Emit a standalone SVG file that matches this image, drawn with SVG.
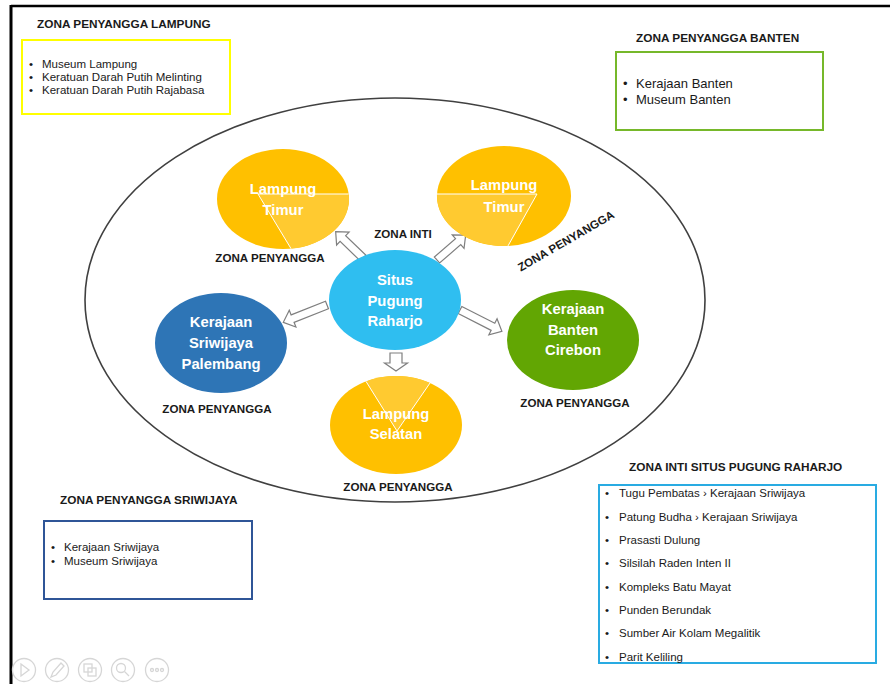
<svg xmlns="http://www.w3.org/2000/svg" width="890" height="684" viewBox="0 0 890 684">
  <style>
    .title { font-family: "Liberation Sans", Arial, sans-serif; font-weight: bold; font-size: 11.8px; fill: #1a1a1a; }
    .zone { font-family: "Liberation Sans", Arial, sans-serif; font-weight: bold; font-size: 11.6px; fill: #1a1a1a; text-anchor: middle; }
    .item { font-family: "Liberation Sans", Arial, sans-serif; font-size: 11.5px; fill: #1a1a1a; }
    .node { font-family: "Liberation Sans", Arial, sans-serif; font-weight: bold; font-size: 14.8px; fill: #ffffff; text-anchor: middle; }
    .arrow { fill: #ffffff; stroke: #7f7f7f; stroke-width: 1.2; stroke-linejoin: miter; }
    .seam { fill: none; stroke: #ffffff; stroke-width: 1; }
    .tool { fill: none; stroke: #d6d6d6; stroke-width: 1.3; }
  </style>
  <defs>
    <!-- block arrow pointing along +x, tip at x = 38 -->
    <path id="blk38" d="M0,-4 L28,-4 L28,-9 L38,0 L28,9 L28,4 L0,4 Z"/>
    <path id="blk47" d="M0,-4 L37,-4 L37,-9 L47,0 L37,9 L37,4 L0,4 Z"/>
  </defs>

  <rect x="0" y="0" width="890" height="684" fill="#ffffff"/>

  <!-- slide frame -->
  <line x1="11" y1="6" x2="890" y2="6" stroke="#000" stroke-width="2.5"/>
  <line x1="11" y1="5" x2="11" y2="684" stroke="#000" stroke-width="3"/>

  <!-- outer boundary -->
  <ellipse cx="395" cy="300" rx="310" ry="202" fill="none" stroke="#404040" stroke-width="1.6"/>

  <!-- connectors -->
  <g id="connectors">
    <use href="#blk38" class="arrow" transform="translate(363,258) rotate(-136)"/>
    <use href="#blk38" class="arrow" transform="translate(437,260) rotate(-41)"/>
    <use href="#blk47" class="arrow" transform="translate(327,305) rotate(158.4)"/>
    <use href="#blk47" class="arrow" transform="translate(460,310) rotate(27)"/>
    <path class="arrow" d="M390,353 L402,353 L402,363 L407.5,363 L396,371 L384.5,363 L390,363 Z"/>
  </g>

  <!-- nodes -->
  <g id="lampung-timur-west">
    <ellipse cx="283" cy="199" rx="66" ry="50" fill="#FFC000"/>
    <path d="M258,194 L348.7,194 A66,50 0 0,1 291,248.6 Z" fill="#FFCA30"/>
    <polyline class="seam" points="348.7,194 258,194 291,248.6"/>
    <text class="node" x="283" y="194">Lampung</text>
    <text class="node" x="283" y="215">Timur</text>
  </g>

  <g id="lampung-timur-east">
    <ellipse cx="504" cy="196" rx="67" ry="50" fill="#FFC000"/>
    <path d="M437,194 L537,194 L508,245.9 A67,50 0 0,1 437,194 Z" fill="#FFCA30"/>
    <polyline class="seam" points="437,194 537,194 508,245.9"/>
    <text class="node" x="504" y="190">Lampung</text>
    <text class="node" x="504" y="212">Timur</text>
  </g>

  <g id="situs-pugung-raharjo">
    <ellipse cx="395" cy="300" rx="66" ry="50" fill="#2FBEF0"/>
    <text class="node" x="395" y="285">Situs</text>
    <text class="node" x="395" y="306">Pugung</text>
    <text class="node" x="395" y="326">Raharjo</text>
  </g>

  <g id="sriwijaya-palembang">
    <ellipse cx="221" cy="343" rx="66" ry="50" fill="#2E75B6"/>
    <text class="node" x="221" y="327">Kerajaan</text>
    <text class="node" x="221" y="348">Sriwijaya</text>
    <text class="node" x="221" y="369">Palembang</text>
  </g>

  <g id="banten-cirebon">
    <ellipse cx="573" cy="340" rx="66" ry="50" fill="#62A603"/>
    <text class="node" x="573" y="314">Kerajaan</text>
    <text class="node" x="573" y="335">Banten</text>
    <text class="node" x="573" y="355">Cirebon</text>
  </g>

  <g id="lampung-selatan">
    <ellipse cx="396" cy="425" rx="66" ry="49" fill="#FFC000"/>
    <path d="M366,381.4 A66,49 0 0,1 430,383 L397,431 Z" fill="#FFCA30"/>
    <polyline class="seam" points="366,381.4 397,431 430,383"/>
    <text class="node" x="396" y="419">Lampung</text>
    <text class="node" x="396" y="439">Selatan</text>
  </g>

  <!-- zone labels -->
  <g id="zone-labels">
    <text class="zone" x="270" y="262">ZONA PENYANGGA</text>
    <text class="zone" x="403" y="238">ZONA INTI</text>
    <text class="zone" transform="translate(566,241) rotate(-30)" x="0" y="4">ZONA PENYANGGA</text>
    <text class="zone" x="217" y="413">ZONA PENYANGGA</text>
    <text class="zone" x="575" y="407">ZONA PENYANGGA</text>
    <text class="zone" x="398" y="491">ZONA PENYANGGA</text>
  </g>

  <!-- buffer zone: Lampung -->
  <g id="box-lampung">
    <text class="title" x="37" y="28">ZONA PENYANGGA LAMPUNG</text>
    <rect x="22" y="40" width="208" height="74" fill="none" stroke="#FFFF00" stroke-width="2"/>
    <text class="item" x="29" y="68">•</text><text class="item" x="42" y="68">Museum Lampung</text>
    <text class="item" x="29" y="81">•</text><text class="item" x="42" y="81">Keratuan Darah Putih Melinting</text>
    <text class="item" x="29" y="94">•</text><text class="item" x="42" y="94">Keratuan Darah Putih Rajabasa</text>
  </g>

  <!-- buffer zone: Banten -->
  <g id="box-banten">
    <text class="title" x="636" y="42">ZONA PENYANGGA BANTEN</text>
    <rect x="616" y="52" width="207" height="78" fill="none" stroke="#76B82A" stroke-width="2"/>
    <text class="item" style="font-size:13px" x="623" y="88">•</text><text class="item" style="font-size:13px" x="636" y="88">Kerajaan Banten</text>
    <text class="item" style="font-size:13px" x="623" y="104">•</text><text class="item" style="font-size:13px" x="636" y="104">Museum Banten</text>
  </g>

  <!-- core zone list -->
  <g id="box-inti">
    <text class="title" x="629" y="471">ZONA INTI SITUS PUGUNG RAHARJO</text>
    <rect x="599" y="485" width="277" height="178" fill="none" stroke="#29ABE2" stroke-width="2"/>
    <g class="item">
      <text x="605" y="497">•</text><text x="619" y="497">Tugu Pembatas › Kerajaan Sriwijaya</text>
      <text x="605" y="521">•</text><text x="619" y="521">Patung Budha › Kerajaan Sriwijaya</text>
      <text x="605" y="544">•</text><text x="619" y="544">Prasasti Dulung</text>
      <text x="605" y="567">•</text><text x="619" y="567">Silsilah Raden Inten II</text>
      <text x="605" y="591">•</text><text x="619" y="591">Kompleks Batu Mayat</text>
      <text x="605" y="614">•</text><text x="619" y="614">Punden Berundak</text>
      <text x="605" y="637">•</text><text x="619" y="637">Sumber Air Kolam Megalitik</text>
      <text x="605" y="661">•</text><text x="619" y="661">Parit Keliling</text>
    </g>
  </g>

  <!-- buffer zone: Sriwijaya -->
  <g id="box-sriwijaya">
    <text class="title" x="60" y="504">ZONA PENYANGGA SRIWIJAYA</text>
    <rect x="44" y="521" width="208" height="78" fill="none" stroke="#2F5597" stroke-width="2"/>
    <text class="item" x="51" y="551">•</text><text class="item" x="64" y="551">Kerajaan Sriwijaya</text>
    <text class="item" x="51" y="565">•</text><text class="item" x="64" y="565">Museum Sriwijaya</text>
  </g>

  <!-- presenter toolbar -->
  <g id="toolbar">
    <circle class="tool" cx="24" cy="670" r="11.5"/>
    <path class="tool" d="M21,664 L29,670 L21,676 Z"/>
    <circle class="tool" cx="57" cy="670" r="11.5"/>
    <path class="tool" d="M51,677 L53,672 L61,663 L64,666 L56,675 Z"/>
    <circle class="tool" cx="90" cy="670" r="11.5"/>
    <rect class="tool" x="84" y="664" width="8" height="8"/>
    <rect class="tool" x="88" y="668" width="8" height="8"/>
    <circle class="tool" cx="123" cy="670" r="11.5"/>
    <circle class="tool" cx="121" cy="668" r="4.5"/>
    <line class="tool" x1="124.5" y1="671.5" x2="129" y2="676"/>
    <circle class="tool" cx="157" cy="670" r="11.5"/>
    <circle class="tool" cx="152" cy="670" r="1.5"/>
    <circle class="tool" cx="157" cy="670" r="1.5"/>
    <circle class="tool" cx="162" cy="670" r="1.5"/>
  </g>
</svg>
